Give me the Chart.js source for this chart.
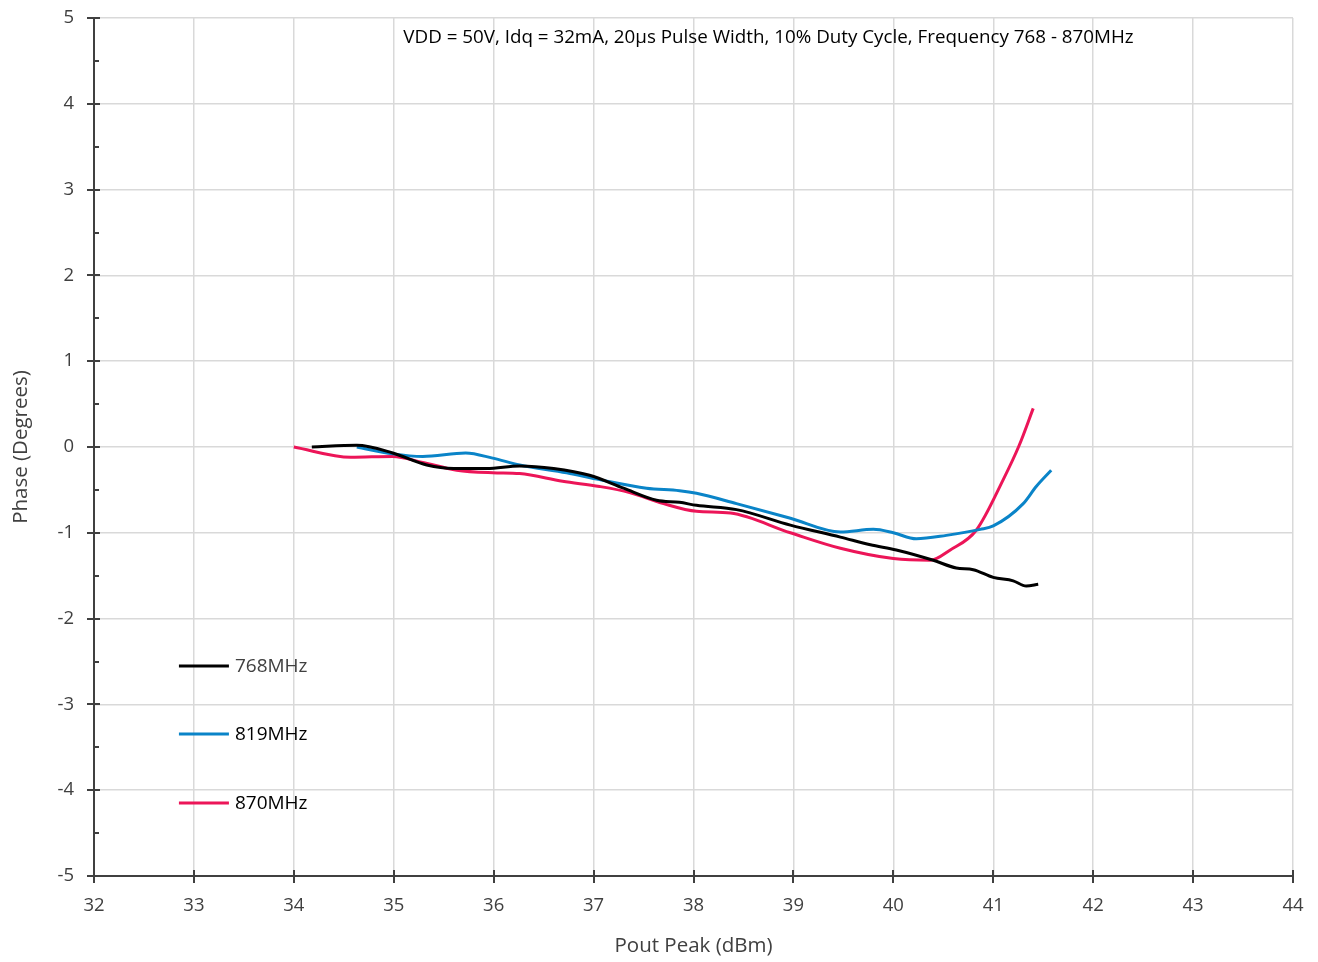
<!DOCTYPE html>
<html>
<head>
<meta charset="utf-8">
<script src="https://cdn.jsdelivr.net/npm/chart.js@4"></script>
<style>
  html, body { margin: 0; padding: 0; background: #fff; }
  #wrap { width: 1318px; height: 962px; }
</style>
</head>
<body>
<div id="wrap"><canvas id="phaseChart"></canvas></div>
<script>
// Phase vs output power, three frequencies
const pout768  = [34.18, 34.63, 34.99, 35.33, 35.6, 35.93, 36.26, 36.6, 36.96, 37.3, 37.63, 37.86, 38.03, 38.43, 38.97, 39.47, 39.77, 40.03, 40.4, 40.63, 40.8, 41.0, 41.2, 41.33, 41.45];
const phase768 = [0.0, 0.02, -0.07, -0.21, -0.25, -0.25, -0.22, -0.25, -0.33, -0.48, -0.62, -0.645, -0.68, -0.73, -0.91, -1.05, -1.14, -1.2, -1.32, -1.41, -1.43, -1.52, -1.56, -1.62, -1.6];

const pout819  = [34.63, 34.99, 35.29, 35.72, 35.99, 36.26, 36.73, 37.06, 37.53, 37.86, 38.03, 38.43, 38.97, 39.47, 39.8, 40.0, 40.23, 40.53, 40.87, 41.0, 41.3, 41.43, 41.58];
const phase819 = [0.0, -0.08, -0.11, -0.07, -0.13, -0.21, -0.30, -0.38, -0.48, -0.51, -0.54, -0.66, -0.83, -0.99, -0.96, -1.0, -1.07, -1.03, -0.96, -0.92, -0.66, -0.46, -0.27];

const pout870  = [34.0, 34.57, 34.99, 35.29, 35.63, 35.99, 36.26, 36.69, 37.06, 37.36, 37.7, 38.03, 38.37, 38.97, 39.47, 40.0, 40.37, 40.57, 40.83, 41.1, 41.26, 41.4];
const phase870 = [0.0, -0.12, -0.11, -0.18, -0.27, -0.30, -0.31, -0.40, -0.46, -0.53, -0.66, -0.75, -0.77, -1.0, -1.18, -1.30, -1.32, -1.2, -0.97, -0.38, 0.02, 0.45];

const seriesNames = ['768MHz', '819MHz', '870MHz'];
const seriesColors = ['#000000', '#0a84c8', '#ec1558'];
const xTicks = [32, 33, 34, 35, 36, 37, 38, 39, 40, 41, 42, 43, 44];
const yTicks = [-5, -4, -3, -2, -1, 0, 1, 2, 3, 4, 5];
const chartNote = 'VDD = 50V, Idq = 32mA, 20µs Pulse Width, 10% Duty Cycle, Frequency 768 - 870MHz';

const FONT = "'Open Sans', 'Noto Sans', sans-serif";
const AXIS = '#404040';

function toPoints(xs, ys) {
  return xs.map((x, i) => ({ x: x, y: ys[i] }));
}

// axis lines with crossing major ticks and inner minor ticks on y
const axisPlugin = {
  id: 'axisLines',
  afterDatasetsDraw(chart) {
    const { ctx, chartArea, scales } = chart;
    const x = scales.x, y = scales.y;
    ctx.save();
    ctx.strokeStyle = AXIS;
    ctx.lineWidth = 2;
    ctx.beginPath();
    ctx.moveTo(chartArea.left, chartArea.top);
    ctx.lineTo(chartArea.left, chartArea.bottom);
    ctx.lineTo(chartArea.right, chartArea.bottom);
    ctx.stroke();
    ctx.beginPath();
    yTicks.forEach(v => {
      const py = Math.round(y.getPixelForValue(v));
      ctx.moveTo(chartArea.left - 7, py);
      ctx.lineTo(chartArea.left + 6, py);
    });
    for (let v = -4.5; v < 5; v += 1) {
      const py = Math.round(y.getPixelForValue(v));
      ctx.moveTo(chartArea.left, py);
      ctx.lineTo(chartArea.left + 5, py);
    }
    xTicks.forEach(v => {
      const px = Math.round(x.getPixelForValue(v));
      ctx.moveTo(px, chartArea.bottom - 6);
      ctx.lineTo(px, chartArea.bottom + 7);
    });
    ctx.stroke();
    ctx.restore();
  }
};

// note line and series key drawn inside the plot area
const notesPlugin = {
  id: 'notes',
  afterDraw(chart) {
    const { ctx, scales } = chart;
    const x = scales.x, y = scales.y;
    ctx.save();
    ctx.fillStyle = '#000';
    ctx.font = '18.8px ' + FONT;
    ctx.textAlign = 'center';
    ctx.textBaseline = 'middle';
    ctx.fillText(chartNote, x.getPixelForValue(38.75), y.getPixelForValue(4.77));

    const keyY = [-2.55, -3.35, -4.15];
    ctx.textAlign = 'left';
    ctx.font = '19px ' + FONT;
    seriesNames.forEach((name, i) => {
      const py = Math.round(y.getPixelForValue(keyY[i]));
      const x0 = x.getPixelForValue(32.85);
      ctx.strokeStyle = seriesColors[i];
      ctx.lineWidth = 3;
      ctx.beginPath();
      ctx.moveTo(x0, py);
      ctx.lineTo(x0 + 50, py);
      ctx.stroke();
      ctx.fillStyle = i === 0 ? '#404040' : '#000';
      ctx.fillText(name, x0 + 56, py + 1);
    });
    ctx.restore();
  }
};

new Chart(document.getElementById('phaseChart'), {
  type: 'scatter',
  data: {
    datasets: [
      { label: seriesNames[0], data: toPoints(pout768, phase768) },
      { label: seriesNames[1], data: toPoints(pout819, phase819) },
      { label: seriesNames[2], data: toPoints(pout870, phase870) }
    ].map((d, i) => Object.assign(d, {
      showLine: true,
      borderColor: seriesColors[i],
      backgroundColor: seriesColors[i],
      borderWidth: 3,
      pointRadius: 0,
      cubicInterpolationMode: 'monotone'
    }))
  },
  options: {
    responsive: true,
    maintainAspectRatio: false,
    animation: false,
    layout: { padding: { top: 18, right: 25, left: 0, bottom: 0 } },
    plugins: {
      legend: { display: false },
      tooltip: { enabled: false }
    },
    scales: {
      x: {
        type: 'linear',
        min: 32, max: 44,
        afterBuildTicks: s => { s.ticks = xTicks.map(v => ({ value: v })); },
        afterFit: s => { s.height = 86; s.paddingLeft = 0; s.paddingRight = 0; },
        grid: { color: '#d9d9d9', lineWidth: 1.5, drawTicks: false },
        border: { display: false },
        ticks: { color: '#404040', padding: 19, font: { family: FONT, size: 18.5 } },
        title: {
          display: true, text: 'Pout Peak (dBm)', color: '#404040',
          font: { family: FONT, size: 20.5 }, padding: { top: 10 }
        }
      },
      y: {
        type: 'linear',
        min: -5, max: 5,
        afterBuildTicks: s => { s.ticks = yTicks.map(v => ({ value: v })); },
        afterFit: s => { s.width = 94; s.paddingTop = 0; s.paddingBottom = 0; },
        grid: { color: '#d9d9d9', lineWidth: 1.5, drawTicks: false },
        border: { display: false },
        ticks: { color: '#404040', padding: 20, font: { family: FONT, size: 18.5 } },
        title: {
          display: true, text: 'Phase (Degrees)', color: '#404040',
          font: { family: FONT, size: 20.5 }, padding: { top: 9, bottom: 0 }
        }
      }
    }
  },
  plugins: [axisPlugin, notesPlugin]
});
</script>
</body>
</html>
